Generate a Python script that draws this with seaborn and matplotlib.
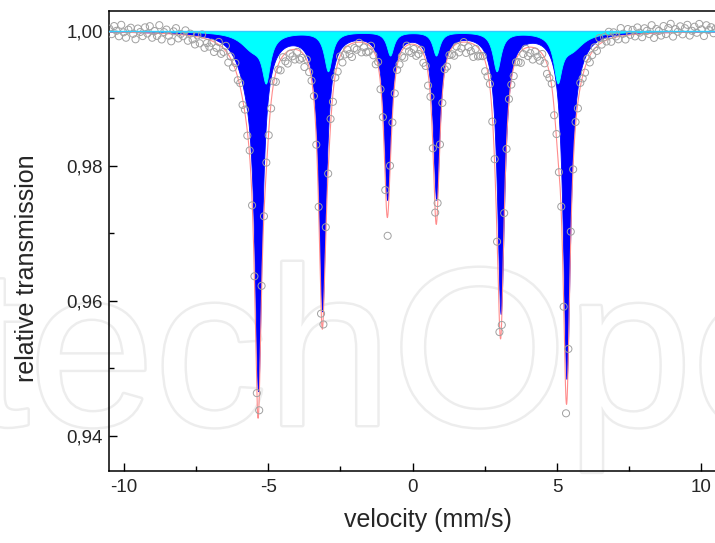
import matplotlib
matplotlib.use('Agg')
import matplotlib.pyplot as plt
import matplotlib.patheffects as pe
from matplotlib.ticker import FuncFormatter, MultipleLocator
import numpy as np
import pandas as pd
import seaborn as sns

# sextet lines of the sharp (blue) component: position, depth, half width (mm/s)
line_pos = [-5.35, -3.13, -0.88, 0.82, 3.05, 5.33]
line_depth = [0.0500, 0.0410, 0.0245, 0.0245, 0.0415, 0.0505]
line_width = [0.15, 0.15, 0.14, 0.14, 0.15, 0.15]
# broad outer shoulders of the blue component
shoulder_pos = [-5.70, 5.70]
shoulder_depth = [0.0050, 0.0015]
shoulder_width = [0.45, 0.40]
# second (cyan) sextet
cyan_pos = [-5.08, -2.93, -0.78, 0.81, 2.91, 5.02]
cyan_depth = [0.0064, 0.0058, 0.0035, 0.0035, 0.0058, 0.0064]
cyan_width = [0.17, 0.17, 0.15, 0.15, 0.17, 0.17]
cyan_tail_pos = [-5.55, 5.50]
cyan_tail_depth = [0.0025, 0.0025]
cyan_tail_width = [0.50, 0.50]

# measured points: 256 channels, residuals (observed - fit) in units of 1e-4
n_channels = 256
resid = [
    5, -3, 9, 2, -6, 11, 0, -8, 4, 7, -2, -10, 6, 1, -5, 8,
    -1, 10, -7, 3, -4, 12, -9, 2, 6, -3, -11, 4, 9, -6, 1, -2,
    7, -8, 3, -5, -12, 2, -9, 5, -14, -6, -10, -3, -15, -7, 4, -11,
    -5, 8, -12, 3, -6, 10, -4, 6, -9, 5, -7, 9, -8, 6, -2, -18,
    7, -4, 10, -6, -9, 4, -14, -7, -16, -2, -12, -18, -5, -10, -15, -3,
    -13, -8, -17, 1, -7, -2, 6, -9, 5, -10, -16, 8, -5, 9, -12, -4,
    -12, 0, -16, -9, -5, -14, -20, -8, -11, -1, -15, -7, -13, -10, 2, -7,
    -12, 6, -8, 3, -14, -28, 7, -9, -15, -6, -12, -8, -15, 0, -10, -13,
    -7, -16, -11, -1, -14, -8, -18, 2, -3, 0, 5, -8, -13, 3, -11, -4,
    -9, -15, -4, -14, -9, 0, -16, -7, -12, -19, -5, -13, -8, -2, -15, -8,
    5, -9, 7, -6, -14, -12, 6, -10, 4, -7, -13, -4, -11, -17, -7, -1,
    -13, -9, -18, -5, -11, -14, 0, -8, -15, -8, 4, -10, 7, -5, 9, -6,
    -20, 3, 8, -7, 5, -9, 6, -4, -8, 3, -10, -5, 2, -7, 9, -3,
    6, -2, 11, -5, 8, 1, -4, 12, 3, -6, 9, 0, 7, -3, 10, 2,
    -5, 8, 4, -1, 12, -7, 6, 3, -4, 10, -2, 7, 13, -6, 5, 1,
    9, -3, 6, 11, -5, 2, 8, -1, 12, 4, -6, 10, 3, 7, -2, 5,
]

x_ticks = [-10, -5, 0, 5, 10]
y_ticks = [0.94, 0.96, 0.98, 1.00]


def absorption(v, pos, depth, width):
    out = np.zeros_like(v)
    for p, d, w in zip(pos, depth, width):
        out += d / (1 + ((v - p) / w) ** 2)
    return out


def blue_part(v):
    return (absorption(v, line_pos, line_depth, line_width)
            + absorption(v, shoulder_pos, shoulder_depth, shoulder_width))


def cyan_part(v):
    return (absorption(v, cyan_pos, cyan_depth, cyan_width)
            + absorption(v, cyan_tail_pos, cyan_tail_depth, cyan_tail_width))


v_fit = np.linspace(-10.6, 10.6, 6000)
fit = pd.DataFrame({'v': v_fit,
                    'blue': 1 - blue_part(v_fit),
                    'cyan': 1 - cyan_part(v_fit)})
fit['total'] = 1 - blue_part(v_fit) - cyan_part(v_fit)

v_obs = np.linspace(-10.5, 10.5, n_channels)
obs = pd.DataFrame({'v': v_obs})
obs['T'] = 1 - blue_part(v_obs) - cyan_part(v_obs) + np.array(resid) * 1e-4

sns.set_style('ticks')
plt.rcParams['font.family'] = ['Liberation Sans', 'DejaVu Sans']
plt.rcParams['axes.unicode_minus'] = False

fig = plt.figure(figsize=(7.15, 5.43), dpi=100)
ax = fig.add_axes([108.5 / 715, 72 / 543, 1 - 108.5 / 715, 460 / 543])
ax.set_facecolor('none')

# faint watermark behind the plot
fig.text(-221 / 715, 118 / 543, 'IntechOpen', fontsize=162, color='white',
         ha='left', va='baseline', zorder=-1,
         path_effects=[pe.withStroke(linewidth=3.5, foreground='#ededed')])

ax.fill_between(fit['v'], 1, fit['blue'], color='#0000ff', lw=0.6, zorder=1)
ax.fill_between(fit['v'], 1, fit['cyan'], color='#00ffff', lw=0.6, zorder=2)
sns.lineplot(data=fit, x='v', y='total', color='#ff8c8c', lw=0.8,
             ax=ax, zorder=3)
sns.scatterplot(data=obs, x='v', y='T', marker='o', s=26, facecolor='none',
                edgecolor='#a0a0a0', linewidth=0.7, ax=ax, zorder=4)
ax.axhline(1.0, color='#33ccff', lw=1.0, zorder=5)

# axes
ax.set_xlim(-10.53, 10.47)
ax.set_ylim(0.93481, 1.00296)
ax.set_xticks(x_ticks)
ax.set_yticks(y_ticks)
ax.xaxis.set_minor_locator(MultipleLocator(2.5))
ax.yaxis.set_minor_locator(MultipleLocator(0.01))
ax.yaxis.set_major_formatter(FuncFormatter(lambda y, _: f'{y:.2f}'.replace('.', ',')))
ax.xaxis.set_major_formatter(FuncFormatter(lambda x, _: f'{x:.0f}'))
ax.tick_params(which='major', direction='in', length=6, width=1,
               labelsize=13.5, color='black')
ax.tick_params(which='minor', direction='in', length=3.5, width=1, color='black')
ax.tick_params(axis='x', which='major', pad=6)
ax.tick_params(axis='y', which='major', pad=4)

ax.set_xlabel('velocity (mm/s)', fontsize=18)
ax.set_ylabel('relative transmission', fontsize=18)
ax.xaxis.set_label_coords(0.526, -0.08)
ax.yaxis.set_label_coords(-0.1146, 0.441)

for s in ['left', 'bottom', 'top']:
    ax.spines[s].set_linewidth(1.1)
    ax.spines[s].set_color('black')
ax.spines['right'].set_visible(False)

plt.savefig('out.png', dpi=100)
plt.close()
